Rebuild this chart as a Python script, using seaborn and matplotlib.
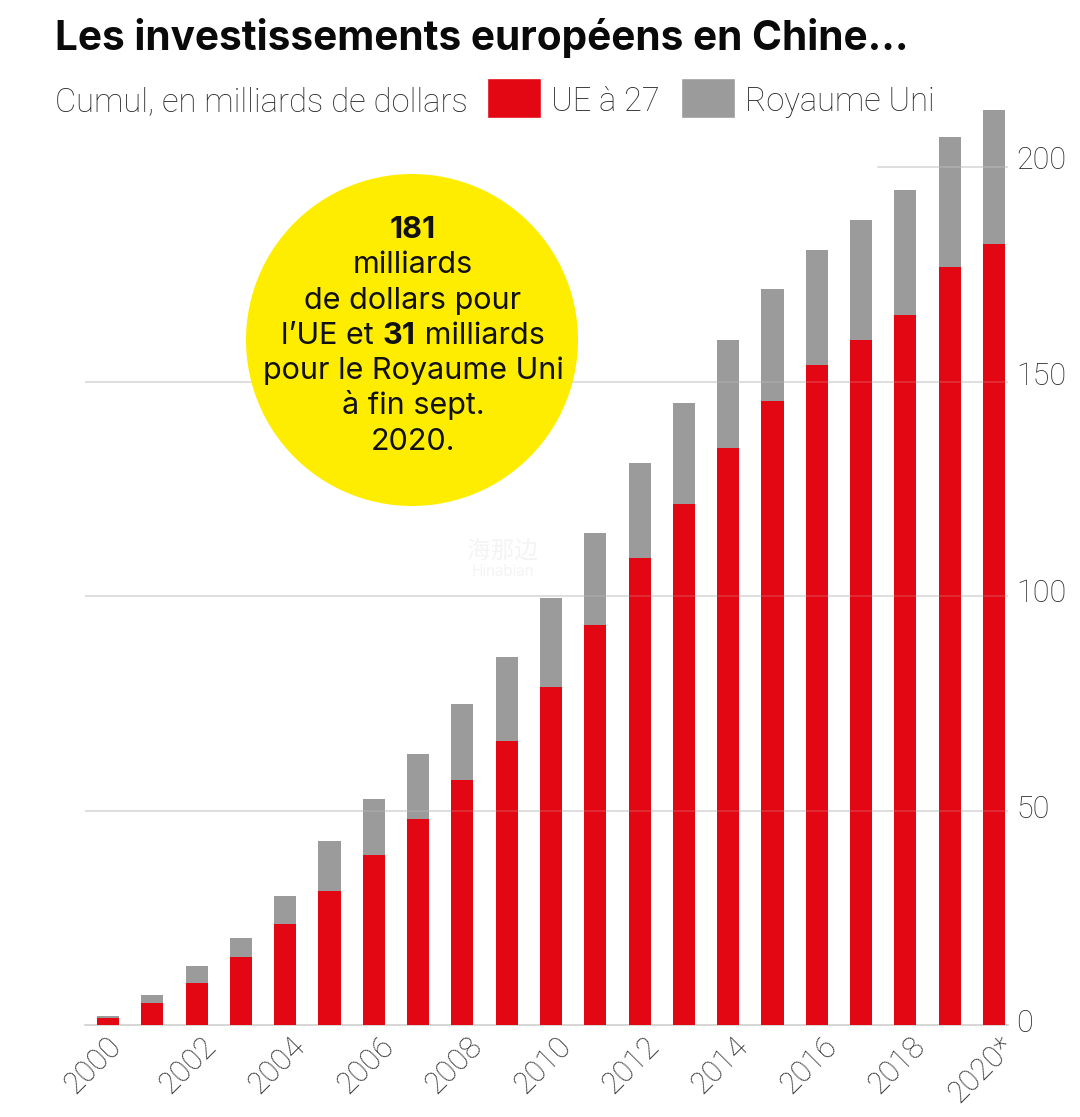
import matplotlib
matplotlib.use("Agg")
import matplotlib.pyplot as plt
import seaborn as sns
import pandas as pd
from matplotlib.font_manager import FontProperties
from matplotlib.patches import Circle, Patch
from matplotlib.transforms import ScaledTranslation, IdentityTransform

years = [str(y) for y in range(2000, 2020)] + ["2020*"]
ue27 = [1.7, 5.1, 9.8, 15.9, 23.5, 31.3, 39.6, 48.0, 57.1, 66.2, 78.8,
        93.2, 108.8, 121.4, 134.5, 145.5, 153.9, 159.7, 165.5, 176.7, 182.0]
royaume_uni = [0.3, 1.9, 4.0, 4.4, 6.6, 11.7, 13.1, 15.2, 17.7, 19.5, 20.7,
               21.5, 22.2, 23.6, 25.2, 26.1, 26.8, 27.9, 29.1, 30.2, 31.2]
y_ticks = [0, 50, 100, 150, 200]
title = "Les investissements européens en Chine..."
subtitle = "Cumul, en milliards de dollars"
series_names = ["UE à 27", "Royaume Uni"]

RED, GREY, YELLOW = "#E30613", "#9B9B9B", "#FFED00"
TXT, GRID = "#2A2A2A", "#DADADA"
W, H = 1080, 1117
LIGHT = dict(family=["Roboto", "DejaVu Sans"], fontweight="light")

sns.set_theme(style="white")
plt.rcParams["font.family"] = ["Inter", "DejaVu Sans"]

fig = plt.figure(figsize=(W / 100, H / 100), dpi=100, facecolor="white")
px = lambda x, y: (x / W, 1 - y / H)

left, right, top, bottom = 85, 1008, 100, 1025
ax = fig.add_axes([left / W, 1 - bottom / H, (right - left) / W, (bottom - top) / H])
ax.set_facecolor("none")

df = pd.DataFrame({"annee": years, "ue": ue27, "ru": royaume_uni})
df["total"] = df["ue"] + df["ru"]
sns.barplot(data=df, x="annee", y="total", color=GREY, width=0.5, saturation=1, linewidth=0, ax=ax, zorder=3)
sns.barplot(data=df, x="annee", y="ue", color=RED, width=0.5, saturation=1, linewidth=0, ax=ax, zorder=4)

ax.set_xlim((left - 108) / 44.3, (right - 108) / 44.3)
ax.set_ylim(0, (bottom - top) / 4.29)
ax.set_xlabel("")
ax.set_ylabel("")

for v in y_ticks[1:-1]:
    ax.axhline(v, color=GRID, lw=1.2, zorder=1)
    ax.axhline(v, color=GRID, lw=1.2, alpha=0.2, zorder=5)
x200 = (878 - left) / (right - left)
ax.axhline(y_ticks[-1], xmin=x200, color=GRID, lw=1.2, zorder=1)
ax.axhline(y_ticks[-1], xmin=x200, color=GRID, lw=1.2, alpha=0.3, zorder=5)

for s in ["top", "left", "right"]:
    ax.spines[s].set_visible(False)
ax.spines["bottom"].set_color("#D0D0D0")
ax.spines["bottom"].set_linewidth(1.2)

ax.yaxis.tick_right()
ax.set_yticks(y_ticks)
ax.set_yticklabels([str(v) for v in y_ticks], fontsize=22, color=TXT, **LIGHT)
ax.tick_params(axis="y", length=0, pad=6)
ax.set_xticks(range(0, len(years), 2))
ax.set_xticklabels(years[::2], rotation=45, ha="right", rotation_mode="anchor",
                   fontsize=22, color=TXT, **LIGHT)
ax.tick_params(axis="x", length=0, pad=5)

for lab, dy in zip(ax.get_yticklabels(), [4, 4, 6, 8, 9.5]):
    lab.set_transform(lab.get_transform() + ScaledTranslation(0, dy / 100, fig.dpi_scale_trans))
for i, lab in enumerate(ax.get_xticklabels()):
    dx = -0.02 if i == 0 else 0.05
    lab.set_transform(lab.get_transform() + ScaledTranslation(dx, 0, fig.dpi_scale_trans))

fig.text(*px(55, 50), title, fontsize=29.2, fontweight="bold", color="#0A0A0A", va="baseline", ha="left")
fig.text(*px(55, 111), subtitle, fontsize=23.6, color=TXT, va="baseline", ha="left", **LIGHT)

handles = [Patch(facecolor=RED), Patch(facecolor=GREY)]
leg = ax.legend(handles, series_names, ncol=2, frameon=False,
                prop=FontProperties(family="Roboto", weight="light", size=23.5),
                labelcolor=TXT, loc="center left", bbox_to_anchor=px(487, 98),
                bbox_transform=fig.transFigure, borderpad=0, borderaxespad=0,
                handlelength=1.66, handleheight=1.47, handletextpad=0.3, columnspacing=0.65)
for t in leg.get_texts():
    t.set_y(-2)

cx, cy = 412, 340
fig.add_artist(Circle((cx, H - cy), 166, facecolor=YELLOW, edgecolor="none",
                      transform=IdentityTransform(), zorder=5))

lines = [
    [("181", "bold")],
    [("milliards", "normal")],
    [("de dollars pour", "normal")],
    [("l’UE et ", "normal"), ("31", "bold"), (" milliards", "normal")],
    [("pour le Royaume Uni", "normal")],
    [("à fin sept.", "normal")],
    [("2020.", "normal")],
]
renderer = fig.canvas.get_renderer()
cfs = 22
for i, parts in enumerate(lines):
    y = 238 + i * 35.3
    texts = [fig.text(0, 1 - y / H, t.replace(" ", "\u00a0"), fontsize=cfs, fontweight=w, color="#111111",
                      va="baseline", ha="left", zorder=6) for t, w in parts]
    widths = [t.get_window_extent(renderer).width for t in texts]
    x = 413 - sum(widths) / 2
    for t, wd in zip(texts, widths):
        t.set_x(x / W)
        x += wd

fig.text(*px(502, 552), "海那边", fontsize=17, color="#F4F4F4", ha="center", va="center",
         family=["Noto Sans CJK SC", "DejaVu Sans"], zorder=7)
fig.text(*px(503, 572), "Hinabian", fontsize=11, color="#F4F4F4", ha="center", va="center", zorder=7)

fig.savefig("out.png", dpi=100, facecolor="white")
